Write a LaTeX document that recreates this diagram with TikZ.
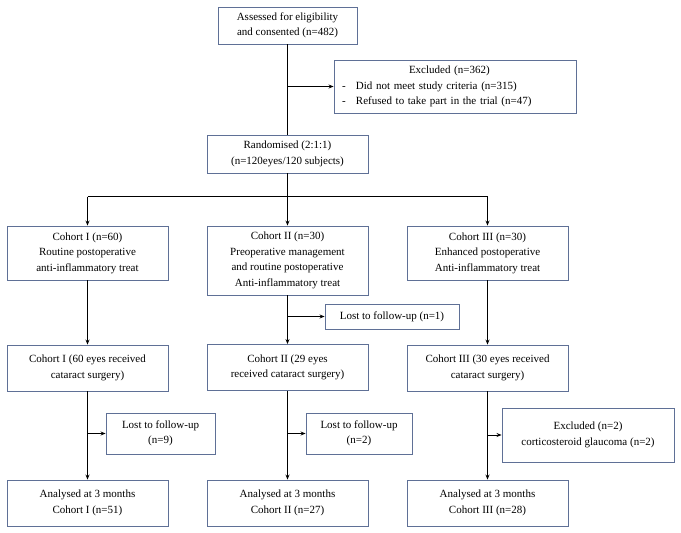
\documentclass[tikz,border=0pt]{standalone}
\usepackage{fontspec}
\setmainfont{Liberation Serif}
\usetikzlibrary{arrows.meta}
\definecolor{boxcol}{RGB}{95,112,150}
\begin{document}
\begin{tikzpicture}[x=1pt,y=-1pt,
  box/.style={draw=boxcol,line width=0.9pt,fill=white,align=center,inner sep=2pt,
    font=\fontsize{11}{15.5}\selectfont},
  conn/.style={line width=0.8pt,black},
  arr/.style={conn,-{Stealth[length=5pt,width=4pt]}}]
\useasboundingbox (0,0) rectangle (681,533);
\fill[white] (0,0) rectangle (681,533);
% top
\node[box,minimum width=139pt,minimum height=37pt] (assess) at (287.5,25.5) {Assessed for eligibility\\and consented (n=482)};
\node[box,minimum width=242pt,minimum height=53pt,text width=226pt,align=left,inner xsep=8pt] (excl) at (455,86.5) {%
  \hspace*{67pt}Excluded (n=362)\\
  \makebox[14pt][l]{-}Did not meet study criteria (n=315)\\
  \makebox[14pt][l]{-}Refused to take part in the trial (n=47)};
\node[box,minimum width=161pt,minimum height=38pt] (rand) at (287.5,154) {Randomised (2:1:1)\\(n=120eyes/120 subjects)};
% cohorts
\node[box,minimum width=161pt,minimum height=54pt] (c1) at (87.5,253) {Cohort I (n=60)\\Routine postoperative\\anti-inflammatory treat};
\node[box,minimum width=161pt,minimum height=69pt] (c2) at (287.5,260.5) {Cohort II (n=30)\\Preoperative management\\and routine postoperative\\Anti-inflammatory treat};
\node[box,minimum width=161pt,minimum height=54pt] (c3) at (487.5,253) {Cohort III (n=30)\\Enhanced postoperative\\Anti-inflammatory treat};
\node[box,minimum width=134pt,minimum height=25pt] (lost1) at (392,316.5) {Lost to follow-up (n=1)};
% surgery
\node[box,minimum width=161pt,minimum height=46pt] (s1) at (87.5,368) {Cohort I (60 eyes received\\cataract surgery)};
\node[box,minimum width=161pt,minimum height=46pt] (s2) at (287.5,367.5) {Cohort II (29 eyes\\received cataract surgery)};
\node[box,minimum width=161pt,minimum height=46pt] (s3) at (487.5,368) {Cohort III (30 eyes received\\cataract surgery)};
% losses
\node[box,minimum width=109pt,minimum height=41pt] (l9) at (160.5,433.5) {Lost to follow-up\\(n=9)};
\node[box,minimum width=106pt,minimum height=41pt] (l2) at (359,433.5) {Lost to follow-up\\(n=2)};
\node[box,minimum width=172pt,minimum height=54pt] (ex2) at (588,435) {Excluded (n=2)\\corticosteroid glaucoma (n=2)};
% analysed
\node[box,minimum width=161pt,minimum height=46pt] (a1) at (87.5,503) {Analysed at 3 months\\Cohort I (n=51)};
\node[box,minimum width=161pt,minimum height=46pt] (a2) at (287.5,503) {Analysed at 3 months\\Cohort II (n=27)};
\node[box,minimum width=161pt,minimum height=46pt] (a3) at (487.5,503) {Analysed at 3 months\\Cohort III (n=28)};
% connectors
\coordinate (bx) at (assess.south |- excl.west);
\draw[conn] (assess.south) -- (rand.north);
\draw[arr] (bx) -- (excl.west);
\coordinate (split) at (287.5,196.5);
\coordinate (sl) at (c1.north |- split);
\coordinate (sr) at (c3.north |- split);
\draw[conn] (rand.south) -- (split);
\draw[conn] (sl) -- (sr);
\draw[arr] (sl) -- (c1.north);
\draw[arr] (split) -- (c2.north);
\draw[arr] (sr) -- (c3.north);
\draw[arr] (c1.south) -- (s1.north);
\draw[arr] (c2.south) -- (s2.north);
\draw[arr] (c3.south) -- (s3.north);
\coordinate (b1) at (c2.south |- lost1.west);
\draw[arr] (b1) -- (lost1.west);
\draw[arr] (s1.south) -- (a1.north);
\draw[arr] (s2.south) -- (a2.north);
\draw[arr] (s3.south) -- (a3.north);
\coordinate (b9) at (s1.south |- l9.west);
\coordinate (b2) at (s2.south |- l2.west);
\coordinate (b3) at (s3.south |- ex2.west);
\draw[arr] (b9) -- (l9.west);
\draw[arr] (b2) -- (l2.west);
\draw[arr] (b3) -- (ex2.west);
\end{tikzpicture}
\end{document}
